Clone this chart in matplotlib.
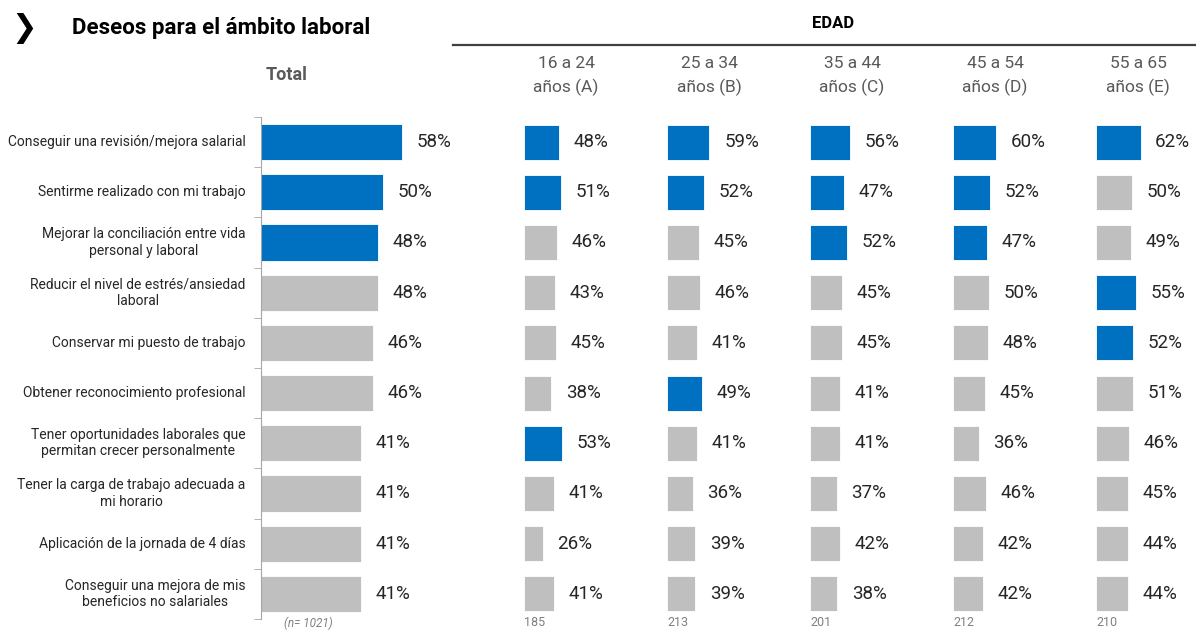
## Deseos para el ambito laboral - total y por edad
import matplotlib.pyplot as plt

plt.rcParams['font.family'] = ['Roboto', 'DejaVu Sans']

# datos
categorias = ['Conseguir una revisión/mejora salarial',
              'Sentirme realizado con mi trabajo',
              'Mejorar la conciliación entre vida\npersonal y laboral',
              'Reducir el nivel de estrés/ansiedad\nlaboral',
              'Conservar mi puesto de trabajo',
              'Obtener reconocimiento profesional',
              'Tener oportunidades laborales que\npermitan crecer personalmente',
              'Tener la carga de trabajo adecuada a\nmi horario',
              'Aplicación de la jornada de 4 días',
              'Conseguir una mejora de mis\nbeneficios no salariales']
total = [58, 50, 48, 48, 46, 46, 41, 41, 41, 41]
total_dest = [0, 1, 2]

edades = ['16 a 24\naños (A)', '25 a 34\naños (B)', '35 a 44\naños (C)',
          '45 a 54\naños (D)', '55 a 65\naños (E)']
edad_A = [48, 51, 46, 43, 45, 38, 53, 41, 26, 41]
edad_B = [59, 52, 45, 46, 41, 49, 41, 36, 39, 39]
edad_C = [56, 47, 52, 45, 45, 41, 41, 37, 42, 38]
edad_D = [60, 52, 47, 50, 48, 45, 36, 46, 42, 42]
edad_E = [62, 50, 49, 55, 52, 51, 46, 45, 44, 44]
valores_edad = [edad_A, edad_B, edad_C, edad_D, edad_E]
# filas destacadas (azul) en cada columna
dest_edad = [[0, 1, 6], [0, 1, 5], [0, 1, 2], [0, 1, 2], [0, 3, 4]]
n_total = '(n= 1021)'
n_edad = ['185', '213', '201', '212', '210']

azul = '#0070C0'
gris = '#BFBFBF'
W, H = 1196, 630

fig = plt.figure(figsize=(W/100, H/100), dpi=100)

def px_axes(x0, y0, w, h):
    # ejes en pixeles (origen arriba a la izquierda)
    return fig.add_axes([x0/W, 1 - (y0+h)/H, w/W, h/H])

filas = list(range(len(categorias)))
top, alto = 117, 502

## Total
ax = px_axes(261, top, 200, alto)
cols = [azul if i in total_dest else gris for i in filas]
ax.barh(filas, total, height=0.72, color=cols, edgecolor='white', linewidth=0.6)
ax.set_xlim(0, 200/2.43)
ax.set_ylim(9.5, -0.5)
for s in ['top', 'right', 'bottom']:
    ax.spines[s].set_visible(False)
ax.spines['left'].set_color('#A6A6A6')
ax.set_xticks([])
ax.set_yticks([])
ax.set_yticks([i - 0.5 for i in range(len(filas)+1)], minor=True)
ax.tick_params(axis='y', which='minor', length=5, color='#A6A6A6', labelleft=False)
for i, v in enumerate(total):
    ax.annotate(f'{v}%', (v, i), xytext=(10.5, 0), textcoords='offset points',
                ha='left', va='center', fontsize=13.5, color='#262626')
    ax.annotate(categorias[i], (0, i), xytext=(-11, 0), textcoords='offset points',
                ha='right', va='center', multialignment='center',
                fontsize=10, color='#262626', annotation_clip=False)

## Columnas por edad
izq = [524, 667, 810, 953, 1096]
for k, vals in enumerate(valores_edad):
    a = px_axes(izq[k], top, 100, alto)
    cols = [azul if i in dest_edad[k] else gris for i in filas]
    a.barh(filas, vals, height=0.7, color=cols, edgecolor='white', linewidth=0.6)
    a.set_xlim(0, 100/0.72)
    a.set_ylim(9.5, -0.5)
    a.axis('off')
    for i, v in enumerate(vals):
        a.annotate(f'{v}%', (v, i), xytext=(10.5, 0), textcoords='offset points',
                   ha='left', va='center', fontsize=13.5, color='#262626',
                   annotation_clip=False)
    fig.text((izq[k] + 42)/W, 1 - 76/H, edades[k], ha='center', va='center',
             fontsize=12.5, color='#595959', linespacing=1.55)
    fig.text(izq[k]/W, 1 - 623/H, n_edad[k], ha='left', va='center',
             fontsize=9, color='#808080')

fig.text(308/W, 1 - 623/H, n_total, ha='center', va='center', fontsize=8.5,
         color='#808080', style='italic')

## Titulos
fig.text(11/W, 1 - 28/H, '❯', fontsize=22, fontweight='bold', ha='left',
         va='center', family=['DejaVu Sans'], color='black')
fig.text(72/W, 1 - 28/H, 'Deseos para el ámbito laboral', fontsize=16,
         fontweight='bold', ha='left', va='center', color='black')
fig.text(287/W, 1 - 75/H, 'Total', fontsize=13, fontweight='bold',
         ha='center', va='center', color='#595959')
fig.text(833/W, 1 - 24/H, 'EDAD', fontsize=12, fontweight='bold',
         ha='center', va='center', color='black')
fig.add_artist(plt.Line2D([453/W, 1], [1 - 45/H, 1 - 45/H], color='#404040', lw=1.6))

fig.savefig('out.png', dpi=100)
